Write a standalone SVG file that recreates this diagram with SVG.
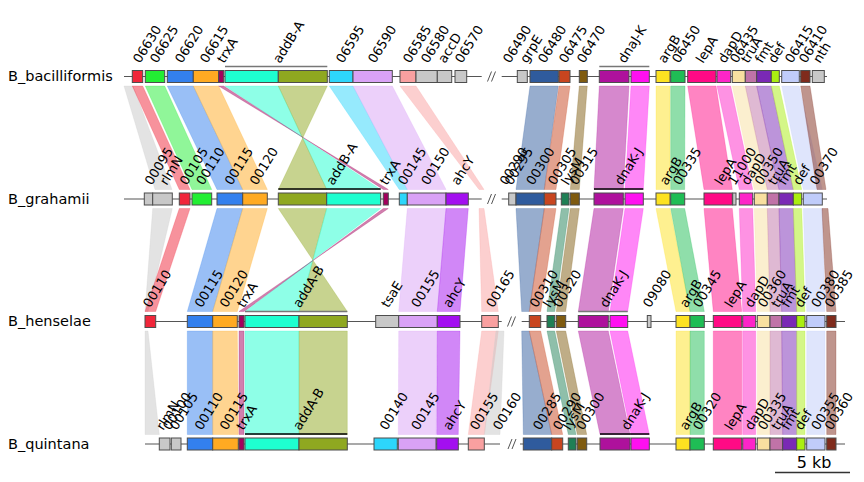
<svg xmlns="http://www.w3.org/2000/svg" width="864" height="482" viewBox="0 0 864 482">
<style>
.cR{color:#f0263a}.cG{color:#22ee33}.cB{color:#3380ee}.cO{color:#ffaa22}.cT{color:#a3005d}.cC{color:#1effd0}.cV{color:#8fa820}.cA{color:#2dd6fb}.cL{color:#d9a2f6}.cS{color:#f9a0a0}.cY{color:#c8c8c8}.cN{color:#2f5b9d}.cE{color:#c8451f}.cK{color:#7f5b10}.cD{color:#1f7f55}.cP{color:#ae119c}.cM{color:#ff10f0}.cU{color:#fde221}.cQ{color:#1fbd55}.cH{color:#ff0a85}.cI{color:#fd25c8}.cW{color:#f8e0a0}.cX{color:#c073a8}.cZ{color:#7a29b5}.cF{color:#aaee11}.cJ{color:#c0ccfa}.cBr{color:#7f2b1c}.cAh{color:#a30ff0}
.b{fill:currentColor;fill-opacity:.5;stroke:currentColor;stroke-opacity:.3;stroke-width:.8}
.g rect{fill:currentColor;stroke:#4d4d4d;stroke-width:1}
.trk{stroke:#555;stroke-width:1.2;fill:none}
.brk{stroke:#555;stroke-width:1;fill:none}
.brg{stroke:#777;stroke-width:1.3}
.brb{stroke:#000;stroke-width:1.3}
text{font-family:"DejaVu Sans",sans-serif;fill:#000}
.lb{font-size:13px}
.tn{font-size:14.5px}
</style>
<g id="connectors">
<polygon class="b cY" points="124,86 133,86 172,189.5 155,189.5"/>
<polygon class="b cR" points="132.3,86 142.7,86 190,189.5 179.3,189.5"/>
<polygon class="b cG" points="145.3,86 164.7,86 211.7,189.5 192,189.5"/>
<polygon class="b cB" points="167.3,86 193.3,86 242.7,189.5 217,189.5"/>
<polygon class="b cO" points="193.3,86 218.7,86 267.3,189.5 242.7,189.5"/>
<polygon class="b cC" points="225,86 278.3,86 326.7,189.5 380.7,189.5"/>
<polygon class="b cV" points="278.3,86 327.3,86 278.3,189.5 326.7,189.5"/>
<polygon class="b cT" points="218.7,86 223.7,86 383.3,189.5 388.3,189.5"/>
<polygon class="b cA" points="329.3,86 353,86 407.3,189.5 399.3,189.5"/>
<polygon class="b cL" points="353,86 392.3,86 446,189.5 407.3,189.5"/>
<polygon class="b cS" points="400,86 416,86 484,189.5 479,189.5"/>
<polygon class="b cN" points="530,86 558.3,86 544.3,189.5 516,189.5"/>
<polygon class="b cE" points="559,86 570,86 556,189.5 544.3,189.5"/>
<polygon class="b cK" points="579.3,86 587.3,86 579.3,189.5 570.3,189.5"/>
<polygon class="b cP" points="599.3,86 629,86 623.3,189.5 594,189.5"/>
<polygon class="b cM" points="631,86 649.3,86 643.3,189.5 625,189.5"/>
<polygon class="b cU" points="656,86 670,86 670,189.5 656,189.5"/>
<polygon class="b cQ" points="670.7,86 685,86 684.7,189.5 670.7,189.5"/>
<polygon class="b cH" points="687.7,86 716,86 732.3,189.5 704,189.5"/>
<polygon class="b cI" points="717,86 730.7,86 752.7,189.5 739.3,189.5"/>
<polygon class="b cW" points="732.3,86 745.3,86 767.3,189.5 754.3,189.5"/>
<polygon class="b cX" points="745.3,86 756.7,86 779,189.5 767.3,189.5"/>
<polygon class="b cZ" points="756.7,86 771.3,86 793.3,189.5 779,189.5"/>
<polygon class="b cF" points="771.3,86 779.3,86 801.7,189.5 793.3,189.5"/>
<polygon class="b cJ" points="781.7,86 799.3,86 822.3,189.5 803.3,189.5"/>
<polygon class="b cBr" points="800.7,86 810,86 826,189.5 817,189.5"/>
<polygon class="b cY" points="152.7,208.5 172.3,208.5 148,311.5 145,311.5"/>
<polygon class="b cR" points="179.3,208.5 190,208.5 155.7,311.5 145,311.5"/>
<polygon class="b cB" points="217,208.5 242.7,208.5 212.7,311.5 187.3,311.5"/>
<polygon class="b cO" points="242.7,208.5 267.3,208.5 237.3,311.5 212.7,311.5"/>
<polygon class="b cV" points="278.3,208.5 326.7,208.5 299,311.5 347.3,311.5"/>
<polygon class="b cC" points="326.7,208.5 380.7,208.5 245,311.5 299,311.5"/>
<polygon class="b cT" points="383.3,208.5 388.3,208.5 239,311.5 244,311.5"/>
<polygon class="b cL" points="407.3,208.5 446,208.5 437.3,311.5 398.7,311.5"/>
<polygon class="b cAh" points="446,208.5 468.3,208.5 460,311.5 437.3,311.5"/>
<polygon class="b cS" points="479,208.5 484,208.5 498.3,311.5 481.7,311.5"/>
<polygon class="b cN" points="516,208.5 544.3,208.5 529.3,311.5 521.7,311.5"/>
<polygon class="b cE" points="544.3,208.5 556,208.5 540.7,311.5 529.3,311.5"/>
<polygon class="b cD" points="561.3,208.5 569,208.5 554.7,311.5 547,311.5"/>
<polygon class="b cK" points="570.3,208.5 579.3,208.5 565.7,311.5 556.3,311.5"/>
<polygon class="b cP" points="594,208.5 623.3,208.5 608.3,311.5 578.3,311.5"/>
<polygon class="b cM" points="625,208.5 643.3,208.5 627.7,311.5 610,311.5"/>
<polygon class="b cU" points="656,208.5 670,208.5 690,311.5 676,311.5"/>
<polygon class="b cQ" points="670.7,208.5 684.7,208.5 704.3,311.5 690,311.5"/>
<polygon class="b cH" points="704,208.5 732.3,208.5 741.7,311.5 713.3,311.5"/>
<polygon class="b cI" points="739.3,208.5 752.7,208.5 755.7,311.5 742.7,311.5"/>
<polygon class="b cW" points="754.3,208.5 767.3,208.5 770,311.5 757.3,311.5"/>
<polygon class="b cX" points="767.3,208.5 779,208.5 781.7,311.5 770,311.5"/>
<polygon class="b cZ" points="779,208.5 793.3,208.5 796.7,311.5 781.7,311.5"/>
<polygon class="b cF" points="793.3,208.5 801.7,208.5 805,311.5 796.7,311.5"/>
<polygon class="b cJ" points="803.3,208.5 822.3,208.5 825,311.5 806.7,311.5"/>
<polygon class="b cBr" points="822,208.5 828,208.5 836,311.5 826.7,311.5"/>
<polygon class="b cY" points="145,331 148,331 159.3,434.5 145,434.5"/>
<polygon class="b cB" points="187.3,331 212.7,331 212.7,434.5 187.3,434.5"/>
<polygon class="b cO" points="212.7,331 237.3,331 238.3,434.5 212.7,434.5"/>
<polygon class="b cT" points="239,331 244,331 244,434.5 239,434.5"/>
<polygon class="b cC" points="245,331 299,331 299,434.5 245,434.5"/>
<polygon class="b cV" points="299,331 347.3,331 347.3,434.5 299,434.5"/>
<polygon class="b cL" points="398.7,331 437.3,331 436,434.5 398.3,434.5"/>
<polygon class="b cAh" points="437.3,331 460,331 458.3,434.5 436.7,434.5"/>
<polygon class="b cS" points="481.7,331 498.3,331 484.3,434.5 468.3,434.5"/>
<polygon class="b cY" points="496,331 504,331 500,434.5 484.3,434.5"/>
<polygon class="b cN" points="521.7,331 529.3,331 551.7,434.5 523.3,434.5"/>
<polygon class="b cE" points="529.3,331 540.7,331 562.7,434.5 551.7,434.5"/>
<polygon class="b cD" points="547,331 554.7,331 576,434.5 568.3,434.5"/>
<polygon class="b cK" points="556.3,331 565.7,331 586.7,434.5 577.3,434.5"/>
<polygon class="b cP" points="578.3,331 608.3,331 630,434.5 600,434.5"/>
<polygon class="b cM" points="610,331 627.7,331 649.3,434.5 631,434.5"/>
<polygon class="b cU" points="676,331 690,331 690,434.5 676,434.5"/>
<polygon class="b cQ" points="690,331 704.3,331 704.3,434.5 690,434.5"/>
<polygon class="b cH" points="713.3,331 741.7,331 741.7,434.5 713.3,434.5"/>
<polygon class="b cI" points="742.7,331 755.7,331 755.7,434.5 742.7,434.5"/>
<polygon class="b cW" points="757.3,331 770,331 770,434.5 757.3,434.5"/>
<polygon class="b cX" points="770,331 781.7,331 782.7,434.5 770,434.5"/>
<polygon class="b cZ" points="781.7,331 796.7,331 796.7,434.5 782.7,434.5"/>
<polygon class="b cF" points="796.7,331 805,331 805,434.5 796.7,434.5"/>
<polygon class="b cJ" points="806.7,331 825,331 825,434.5 806.7,434.5"/>
<polygon class="b cBr" points="826.7,331 836,331 836,434.5 826.7,434.5"/>
</g>

<g id="tracks">
<path class="trk" d="M124,76.5H481.7M501.7,76.5H827M124,199H481.7M501.7,199H827M145,321.5H501.7M521.7,321.5H845M145,444H500M520,444H845"/>
<path class="brk" d="M487.5,81.5L491.5,71.5M491.5,81.5L495.5,71.5M487.5,204L491.5,194M491.5,204L495.5,194M507.5,326.5L511.5,316.5M511.5,326.5L515.5,316.5M508,449L512,439M512,449L516,439"/>
<path class="brg" d="M225,66.5H327.3M599.3,66.5H649.3M245,311.5H347.3M578.3,311.5H627.7"/>
<path class="brb" d="M278.3,189H380.7M594,189H643.3M245,434H347.3M600,434H649.3"/>
</g>

<g id="track_names">
<text class="tn" x="8" y="81">B_bacilliformis</text>
<text class="tn" x="8" y="203.5">B_grahamii</text>
<text class="tn" x="8" y="326">B_henselae</text>
<text class="tn" x="8" y="448.5">B_quintana</text>
</g>

<g id="bac_genes" class="g">
<g id="bac_06630" class="cR"><rect x="132.3" y="70.5" width="10.4" height="12"/><text class="lb" transform="translate(140,64) rotate(-58)">06630</text></g>
<g id="bac_06625" class="cG"><rect x="145.3" y="70.5" width="19.4" height="12"/><text class="lb" transform="translate(157,64) rotate(-58)">06625</text></g>
<g id="bac_06620" class="cB"><rect x="167.3" y="70.5" width="26" height="12"/><text class="lb" transform="translate(182,64) rotate(-58)">06620</text></g>
<g id="bac_06615" class="cO"><rect x="193.3" y="70.5" width="25.4" height="12"/><text class="lb" transform="translate(207,64) rotate(-58)">06615</text></g>
<g id="bac_trxA" class="cT"><rect x="218.7" y="70.5" width="5" height="12"/><text class="lb" transform="translate(224,64) rotate(-58)">trxA</text></g>
<g id="bac_addB-A"><g class="cC"><rect x="225" y="70.5" width="53.3" height="12"/></g><g class="cV"><rect x="278.3" y="70.5" width="49" height="12"/></g><text class="lb" transform="translate(280,64) rotate(-58)">addB-A</text></g>
<g id="bac_06595" class="cA"><rect x="329.3" y="70.5" width="23.7" height="12"/><text class="lb" transform="translate(343,64) rotate(-58)">06595</text></g>
<g id="bac_06590" class="cL"><rect x="353" y="70.5" width="39.3" height="12"/><text class="lb" transform="translate(375,64) rotate(-58)">06590</text></g>
<g id="bac_06585" class="cS"><rect x="400" y="70.5" width="16" height="12"/><text class="lb" transform="translate(410,64) rotate(-58)">06585</text></g>
<g id="bac_06580" class="cY"><rect x="416" y="70.5" width="21.3" height="12"/><text class="lb" transform="translate(428,64) rotate(-58)">06580</text></g>
<g id="bac_accD" class="cY"><rect x="437.3" y="70.5" width="14.4" height="12"/><text class="lb" transform="translate(445,64) rotate(-58)">accD</text></g>
<g id="bac_06570" class="cY"><rect x="455" y="70.5" width="11.7" height="12"/><text class="lb" transform="translate(462,64) rotate(-58)">06570</text></g>
<g id="bac_06490"><text class="lb" transform="translate(510,64) rotate(-58)">06490</text></g>
<g id="bac_grpE" class="cY"><rect x="517.3" y="70.5" width="10" height="12"/><text class="lb" transform="translate(527,64) rotate(-58)">grpE</text></g>
<g id="bac_06480" class="cN"><rect x="530" y="70.5" width="28.3" height="12"/><text class="lb" transform="translate(545,64) rotate(-58)">06480</text></g>
<g id="bac_06475" class="cE"><rect x="559" y="70.5" width="11" height="12"/><text class="lb" transform="translate(566,64) rotate(-58)">06475</text></g>
<g id="bac_06470" class="cK"><rect x="579.3" y="70.5" width="8" height="12"/><text class="lb" transform="translate(584,64) rotate(-58)">06470</text></g>
<g id="bac_dnaJ-K"><g class="cP"><rect x="599.3" y="70.5" width="29.7" height="12"/></g><g class="cM"><rect x="631" y="70.5" width="18.3" height="12"/></g><text class="lb" transform="translate(625,64) rotate(-58)">dnaJ-K</text></g>
<g id="bac_argB" class="cU"><rect x="656" y="70.5" width="14" height="12"/><text class="lb" transform="translate(665,64) rotate(-58)">argB</text></g>
<g id="bac_06450" class="cQ"><rect x="670.7" y="70.5" width="14.3" height="12"/><text class="lb" transform="translate(679,64) rotate(-58)">06450</text></g>
<g id="bac_lepA" class="cH"><rect x="687.7" y="70.5" width="28.3" height="12"/><text class="lb" transform="translate(703,64) rotate(-58)">lepA</text></g>
<g id="bac_dapD" class="cI"><rect x="717" y="70.5" width="13.7" height="12"/><text class="lb" transform="translate(725,64) rotate(-58)">dapD</text></g>
<g id="bac_06435" class="cW"><rect x="732.3" y="70.5" width="13" height="12"/><text class="lb" transform="translate(737,64) rotate(-58)">06435</text></g>
<g id="bac_truA" class="cX"><rect x="745.3" y="70.5" width="11.4" height="12"/><text class="lb" transform="translate(748,64) rotate(-58)">truA</text></g>
<g id="bac_fmt" class="cZ"><rect x="756.7" y="70.5" width="14.6" height="12"/><text class="lb" transform="translate(762,64) rotate(-58)">fmt</text></g>
<g id="bac_def" class="cF"><rect x="771.3" y="70.5" width="8" height="12"/><text class="lb" transform="translate(775,64) rotate(-58)">def</text></g>
<g id="bac_06415" class="cJ"><rect x="781.7" y="70.5" width="17.6" height="12"/><text class="lb" transform="translate(792,64) rotate(-58)">06415</text></g>
<g id="bac_06410" class="cBr"><rect x="800.7" y="70.5" width="9.3" height="12"/><text class="lb" transform="translate(806,64) rotate(-58)">06410</text></g>
<g id="bac_nth" class="cY"><rect x="812.3" y="70.5" width="12" height="12"/><text class="lb" transform="translate(820,64) rotate(-58)">nth</text></g>
</g>

<g id="gra_genes" class="g">
<g id="gra_00095" class="cY"><rect x="144.3" y="193" width="8.4" height="12"/><text class="lb" transform="translate(151.7,186) rotate(-58)">00095</text></g>
<g id="gra_rlmN" class="cY"><rect x="152.7" y="193" width="19.6" height="12"/><text class="lb" transform="translate(166.7,186) rotate(-58)">rlmN</text></g>
<g id="gra_00105" class="cR"><rect x="179.3" y="193" width="10.7" height="12"/><text class="lb" transform="translate(186.7,186) rotate(-58)">00105</text></g>
<g id="gra_00110" class="cG"><rect x="192" y="193" width="19.7" height="12"/><text class="lb" transform="translate(203.3,186) rotate(-58)">00110</text></g>
<g id="gra_00115" class="cB"><rect x="217" y="193" width="25.7" height="12"/><text class="lb" transform="translate(231.7,186) rotate(-58)">00115</text></g>
<g id="gra_00120" class="cO"><rect x="242.7" y="193" width="24.6" height="12"/><text class="lb" transform="translate(256.7,186) rotate(-58)">00120</text></g>
<g id="gra_addB-A"><g class="cV"><rect x="278.3" y="193" width="48.4" height="12"/></g><g class="cC"><rect x="326.7" y="193" width="54" height="12"/></g><text class="lb" transform="translate(333.3,186) rotate(-58)">addB-A</text></g>
<g id="gra_trxA" class="cT"><rect x="383.3" y="193" width="5" height="12"/><text class="lb" transform="translate(386.7,186) rotate(-58)">trxA</text></g>
<g id="gra_00145" class="cA"><rect x="399.3" y="193" width="8" height="12"/><text class="lb" transform="translate(405,186) rotate(-58)">00145</text></g>
<g id="gra_00150" class="cL"><rect x="407.3" y="193" width="38.7" height="12"/><text class="lb" transform="translate(428.3,186) rotate(-58)">00150</text></g>
<g id="gra_ahcY" class="cAh"><rect x="446" y="193" width="22.3" height="12"/><text class="lb" transform="translate(458.3,186) rotate(-58)">ahcY</text></g>
<g id="gra_00290"><text class="lb" transform="translate(506.7,186) rotate(-58)">00290</text></g>
<g id="gra_00295" class="cY"><rect x="508.7" y="193" width="7.3" height="12"/><text class="lb" transform="translate(511.7,186) rotate(-58)">00295</text></g>
<g id="gra_00300" class="cN"><rect x="516" y="193" width="28.3" height="12"/><text class="lb" transform="translate(533.3,186) rotate(-58)">00300</text></g>
<g id="gra_00305" class="cE"><rect x="544.3" y="193" width="11.7" height="12"/><text class="lb" transform="translate(555,186) rotate(-58)">00305</text></g>
<g id="gra_lysM" class="cD"><rect x="561.3" y="193" width="7.7" height="12"/><text class="lb" transform="translate(568.3,186) rotate(-58)">lysM</text></g>
<g id="gra_00315" class="cK"><rect x="570.3" y="193" width="9" height="12"/><text class="lb" transform="translate(576.7,186) rotate(-58)">00315</text></g>
<g id="gra_dnaK-J"><g class="cP"><rect x="594" y="193" width="29.3" height="12"/></g><g class="cM"><rect x="625" y="193" width="18.3" height="12"/></g><text class="lb" transform="translate(621.7,186) rotate(-58)">dnaK-J</text></g>
<g id="gra_argB" class="cU"><rect x="656" y="193" width="14" height="12"/><text class="lb" transform="translate(666.7,186) rotate(-58)">argB</text></g>
<g id="gra_00335" class="cQ"><rect x="670.7" y="193" width="14" height="12"/><text class="lb" transform="translate(680,186) rotate(-58)">00335</text></g>
<g id="gra_lepA" class="cH"><rect x="704" y="193" width="28.3" height="12"/><text class="lb" transform="translate(721.7,186) rotate(-58)">lepA</text></g>
<g id="gra_11000" class="cY"><rect x="732.7" y="193" width="3.3" height="12"/><text class="lb" transform="translate(735,186) rotate(-58)">11000</text></g>
<g id="gra_dapD" class="cI"><rect x="739.3" y="193" width="13.4" height="12"/><text class="lb" transform="translate(748.3,186) rotate(-58)">dapD</text></g>
<g id="gra_00350" class="cW"><rect x="754.3" y="193" width="13" height="12"/><text class="lb" transform="translate(761.7,186) rotate(-58)">00350</text></g>
<g id="gra_truA" class="cX"><rect x="767.3" y="193" width="11.7" height="12"/><text class="lb" transform="translate(775,186) rotate(-58)">truA</text></g>
<g id="gra_fmt" class="cZ"><rect x="779" y="193" width="14.3" height="12"/><text class="lb" transform="translate(785,186) rotate(-58)">fmt</text></g>
<g id="gra_def" class="cF"><rect x="793.3" y="193" width="8.4" height="12"/><text class="lb" transform="translate(800,186) rotate(-58)">def</text></g>
<g id="gra_00370" class="cJ"><rect x="803.3" y="193" width="19" height="12"/><text class="lb" transform="translate(816.7,186) rotate(-58)">00370</text></g>
</g>

<g id="hen_genes" class="g">
<g id="hen_00110" class="cR"><rect x="145" y="315.5" width="10.7" height="12"/><text class="lb" transform="translate(150,308.5) rotate(-58)">00110</text></g>
<g id="hen_00115" class="cB"><rect x="187.3" y="315.5" width="25.4" height="12"/><text class="lb" transform="translate(201.7,308.5) rotate(-58)">00115</text></g>
<g id="hen_00120" class="cO"><rect x="212.7" y="315.5" width="24.6" height="12"/><text class="lb" transform="translate(226.7,308.5) rotate(-58)">00120</text></g>
<g id="hen_trxA" class="cT"><rect x="239" y="315.5" width="5" height="12"/><text class="lb" transform="translate(244,308.5) rotate(-58)">trxA</text></g>
<g id="hen_addA-B"><g class="cC"><rect x="245" y="315.5" width="54" height="12"/></g><g class="cV"><rect x="299" y="315.5" width="48.3" height="12"/></g><text class="lb" transform="translate(300,308.5) rotate(-58)">addA-B</text></g>
<g id="hen_tsaE" class="cY"><rect x="375.7" y="315.5" width="23" height="12"/><text class="lb" transform="translate(388.3,308.5) rotate(-58)">tsaE</text></g>
<g id="hen_00155" class="cL"><rect x="398.7" y="315.5" width="38.6" height="12"/><text class="lb" transform="translate(418.3,308.5) rotate(-58)">00155</text></g>
<g id="hen_ahcY" class="cAh"><rect x="437.3" y="315.5" width="22.7" height="12"/><text class="lb" transform="translate(450,308.5) rotate(-58)">ahcY</text></g>
<g id="hen_00165" class="cS"><rect x="481.7" y="315.5" width="16.6" height="12"/><text class="lb" transform="translate(493.3,308.5) rotate(-58)">00165</text></g>
<g id="hen_00310" class="cE"><rect x="529.3" y="315.5" width="11.4" height="12"/><text class="lb" transform="translate(536.7,308.5) rotate(-58)">00310</text></g>
<g id="hen_lysM" class="cD"><rect x="547" y="315.5" width="7.7" height="12"/><text class="lb" transform="translate(550,308.5) rotate(-58)">lysM</text></g>
<g id="hen_00320" class="cK"><rect x="556.3" y="315.5" width="9.4" height="12"/><text class="lb" transform="translate(560,308.5) rotate(-58)">00320</text></g>
<g id="hen_dnaK-J"><g class="cP"><rect x="578.3" y="315.5" width="30" height="12"/></g><g class="cM"><rect x="610" y="315.5" width="17.7" height="12"/></g><text class="lb" transform="translate(606.7,308.5) rotate(-58)">dnaK-J</text></g>
<g id="hen_09080" class="cY"><rect x="647.3" y="315.5" width="3.7" height="12"/><text class="lb" transform="translate(650,308.5) rotate(-58)">09080</text></g>
<g id="hen_argB" class="cU"><rect x="676" y="315.5" width="14" height="12"/><text class="lb" transform="translate(686.7,308.5) rotate(-58)">argB</text></g>
<g id="hen_00345" class="cQ"><rect x="690" y="315.5" width="14.3" height="12"/><text class="lb" transform="translate(700,308.5) rotate(-58)">00345</text></g>
<g id="hen_lepA" class="cH"><rect x="713.3" y="315.5" width="28.4" height="12"/><text class="lb" transform="translate(731.7,308.5) rotate(-58)">lepA</text></g>
<g id="hen_dapD" class="cI"><rect x="742.7" y="315.5" width="13" height="12"/><text class="lb" transform="translate(751.7,308.5) rotate(-58)">dapD</text></g>
<g id="hen_00360" class="cW"><rect x="757.3" y="315.5" width="12.7" height="12"/><text class="lb" transform="translate(765,308.5) rotate(-58)">00360</text></g>
<g id="hen_truA" class="cX"><rect x="770" y="315.5" width="11.7" height="12"/><text class="lb" transform="translate(778.3,308.5) rotate(-58)">truA</text></g>
<g id="hen_fmt" class="cZ"><rect x="781.7" y="315.5" width="15" height="12"/><text class="lb" transform="translate(788.3,308.5) rotate(-58)">fmt</text></g>
<g id="hen_def" class="cF"><rect x="796.7" y="315.5" width="8.3" height="12"/><text class="lb" transform="translate(801.7,308.5) rotate(-58)">def</text></g>
<g id="hen_00380" class="cJ"><rect x="806.7" y="315.5" width="18.3" height="12"/><text class="lb" transform="translate(818.3,308.5) rotate(-58)">00380</text></g>
<g id="hen_00385" class="cBr"><rect x="826.7" y="315.5" width="9.3" height="12"/><text class="lb" transform="translate(831.7,308.5) rotate(-58)">00385</text></g>
</g>

<g id="qui_genes" class="g">
<g id="qui_rlmN" class="cY"><rect x="159.3" y="438" width="10.7" height="12"/><text class="lb" transform="translate(163.3,431) rotate(-58)">rlmN</text></g>
<g id="qui_00100"><text class="lb" transform="translate(170,431) rotate(-58)">00100</text></g>
<g id="qui_00105" class="cY"><rect x="171.3" y="438" width="9.7" height="12"/><text class="lb" transform="translate(176.7,431) rotate(-58)">00105</text></g>
<g id="qui_00110" class="cB"><rect x="187.3" y="438" width="25.4" height="12"/><text class="lb" transform="translate(201.7,431) rotate(-58)">00110</text></g>
<g id="qui_00115" class="cO"><rect x="212.7" y="438" width="25.6" height="12"/><text class="lb" transform="translate(226.7,431) rotate(-58)">00115</text></g>
<g id="qui_trxA" class="cT"><rect x="239" y="438" width="5" height="12"/><text class="lb" transform="translate(243.3,431) rotate(-58)">trxA</text></g>
<g id="qui_addA-B"><g class="cC"><rect x="245" y="438" width="54" height="12"/></g><g class="cV"><rect x="299" y="438" width="48.3" height="12"/></g><text class="lb" transform="translate(300,431) rotate(-58)">addA-B</text></g>
<g id="qui_00140" class="cA"><rect x="374" y="438" width="23.3" height="12"/><text class="lb" transform="translate(386.7,431) rotate(-58)">00140</text></g>
<g id="qui_00145" class="cL"><rect x="398.3" y="438" width="37.7" height="12"/><text class="lb" transform="translate(418.3,431) rotate(-58)">00145</text></g>
<g id="qui_ahcY" class="cAh"><rect x="436.7" y="438" width="21.6" height="12"/><text class="lb" transform="translate(450,431) rotate(-58)">ahcY</text></g>
<g id="qui_00155" class="cS"><rect x="468.3" y="438" width="16" height="12"/><text class="lb" transform="translate(477,431) rotate(-58)">00155</text></g>
<g id="qui_00160"><text class="lb" transform="translate(500,431) rotate(-58)">00160</text></g>
<g id="qui_00285" class="cN"><rect x="523.3" y="438" width="28.4" height="12"/><text class="lb" transform="translate(540,431) rotate(-58)">00285</text></g>
<g id="qui_00290" class="cE"><rect x="551.7" y="438" width="11" height="12"/><text class="lb" transform="translate(560,431) rotate(-58)">00290</text></g>
<g id="qui_lysM" class="cD"><rect x="568.3" y="438" width="7.7" height="12"/><text class="lb" transform="translate(570,431) rotate(-58)">lysM</text></g>
<g id="qui_00300" class="cK"><rect x="577.3" y="438" width="9.4" height="12"/><text class="lb" transform="translate(583.3,431) rotate(-58)">00300</text></g>
<g id="qui_dnaK-J"><g class="cP"><rect x="600" y="438" width="30" height="12"/></g><g class="cM"><rect x="631" y="438" width="18.3" height="12"/></g><text class="lb" transform="translate(628.3,431) rotate(-58)">dnaK-J</text></g>
<g id="qui_argB" class="cU"><rect x="676" y="438" width="14" height="12"/><text class="lb" transform="translate(686.7,431) rotate(-58)">argB</text></g>
<g id="qui_00320" class="cQ"><rect x="690" y="438" width="14.3" height="12"/><text class="lb" transform="translate(700,431) rotate(-58)">00320</text></g>
<g id="qui_lepA" class="cH"><rect x="713.3" y="438" width="28.4" height="12"/><text class="lb" transform="translate(731.7,431) rotate(-58)">lepA</text></g>
<g id="qui_dapD" class="cI"><rect x="742.7" y="438" width="13" height="12"/><text class="lb" transform="translate(751.7,431) rotate(-58)">dapD</text></g>
<g id="qui_00335" class="cW"><rect x="757.3" y="438" width="12.7" height="12"/><text class="lb" transform="translate(765,431) rotate(-58)">00335</text></g>
<g id="qui_truA" class="cX"><rect x="770" y="438" width="12.7" height="12"/><text class="lb" transform="translate(778.3,431) rotate(-58)">truA</text></g>
<g id="qui_fmt" class="cZ"><rect x="782.7" y="438" width="14" height="12"/><text class="lb" transform="translate(788.3,431) rotate(-58)">fmt</text></g>
<g id="qui_def" class="cF"><rect x="796.7" y="438" width="8.3" height="12"/><text class="lb" transform="translate(801.7,431) rotate(-58)">def</text></g>
<g id="qui_00355" class="cJ"><rect x="806.7" y="438" width="18.3" height="12"/><text class="lb" transform="translate(818.3,431) rotate(-58)">00355</text></g>
<g id="qui_00360" class="cBr"><rect x="826.7" y="438" width="9.3" height="12"/><text class="lb" transform="translate(831.7,431) rotate(-58)">00360</text></g>
</g>

<g id="scalebar">
<line x1="775" y1="472.5" x2="850" y2="472.5" stroke="#333" stroke-width="1.5"/>
<text x="814" y="468" font-size="16" text-anchor="middle">5 kb</text>
</g>
</svg>
